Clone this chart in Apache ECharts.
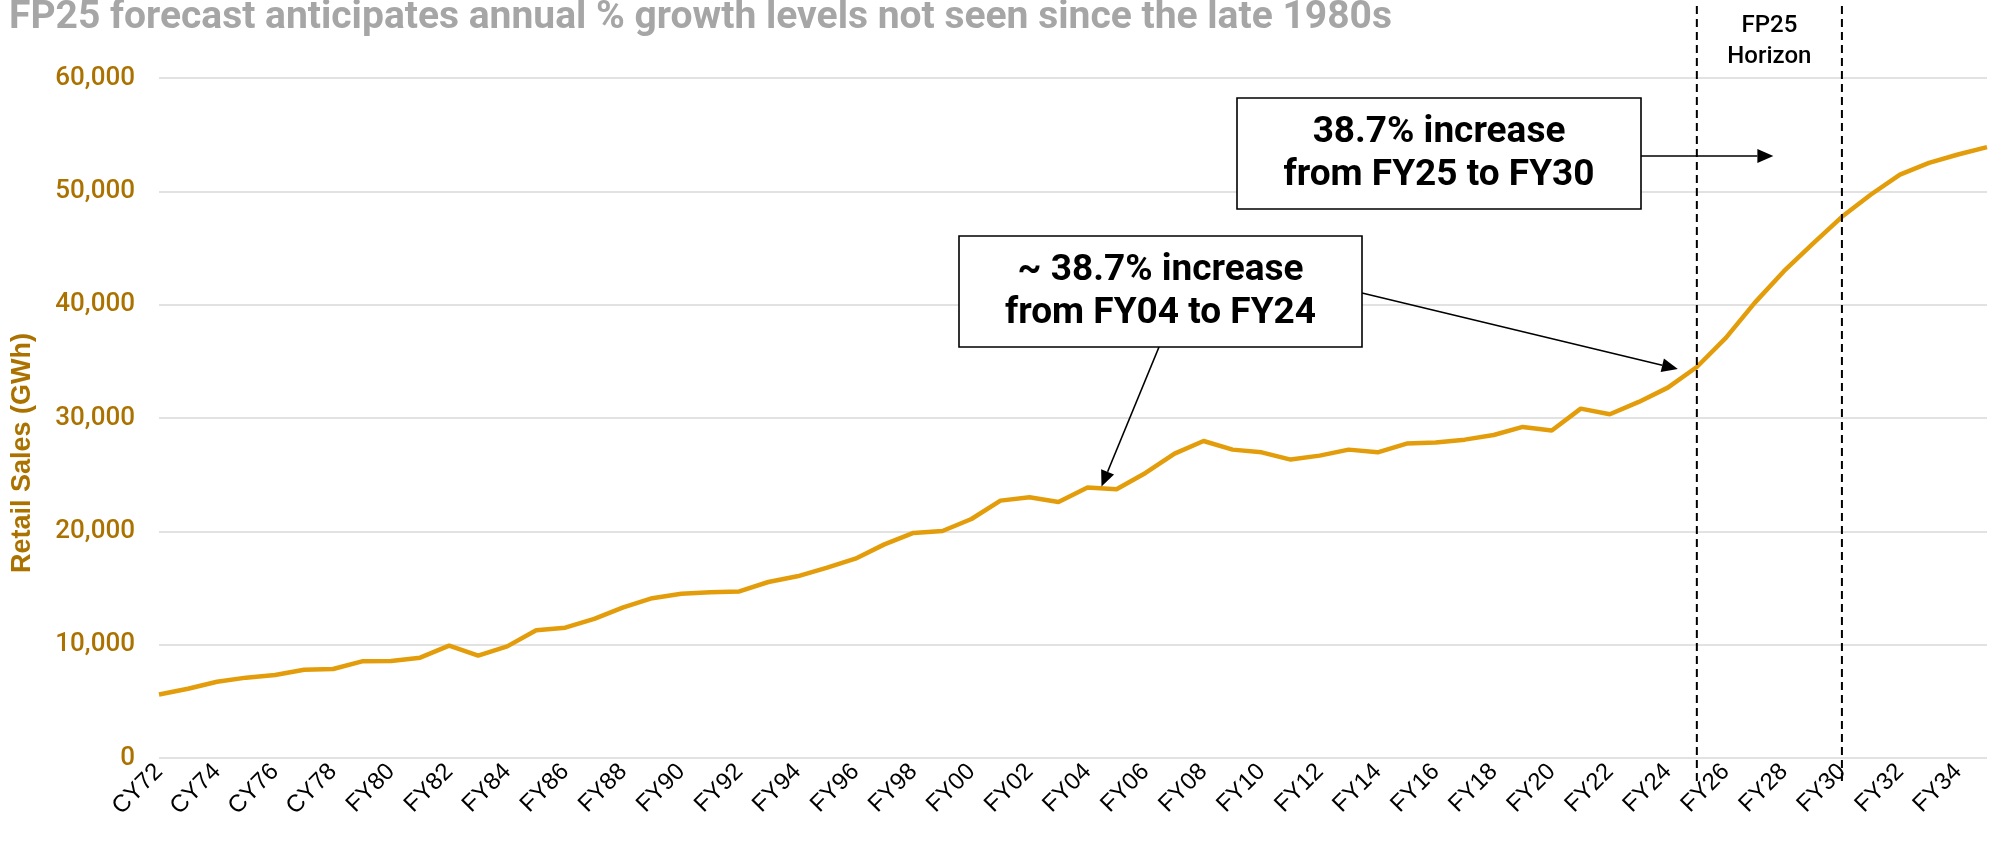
<!DOCTYPE html>
<html>
<head>
<meta charset="utf-8">
<script src="https://cdn.jsdelivr.net/npm/echarts@6/dist/echarts.min.js"></script>
<style>
  html, body { margin: 0; padding: 0; background: #fff; }
  #main { width: 1999px; height: 845px; }
</style>
</head>
<body>
<div id="main"></div>
<script>
// categories (calendar years up to 79, fiscal years after)
var periods = ['CY72', 'CY73', 'CY74', 'CY75', 'CY76', 'CY77', 'CY78', 'CY79',
  'FY80', 'FY81', 'FY82', 'FY83', 'FY84', 'FY85', 'FY86', 'FY87', 'FY88', 'FY89',
  'FY90', 'FY91', 'FY92', 'FY93', 'FY94', 'FY95', 'FY96', 'FY97', 'FY98', 'FY99',
  'FY00', 'FY01', 'FY02', 'FY03', 'FY04', 'FY05', 'FY06', 'FY07', 'FY08', 'FY09',
  'FY10', 'FY11', 'FY12', 'FY13', 'FY14', 'FY15', 'FY16', 'FY17', 'FY18', 'FY19',
  'FY20', 'FY21', 'FY22', 'FY23', 'FY24', 'FY25', 'FY26', 'FY27', 'FY28', 'FY29',
  'FY30', 'FY31', 'FY32', 'FY33', 'FY34', 'FY35'];

// retail sales, GWh
var retailSales = [5610, 6110, 6730, 7090, 7320, 7790, 7850, 8530,
  8560, 8850, 9910, 9030, 9850, 11270, 11500, 12270, 13290, 14100,
  14500, 14620, 14700, 15530, 16030, 16770, 17590, 18850, 19860, 20030,
  21090, 22710, 23000, 22590, 23860, 23710, 25150, 26860, 27970, 27210,
  26970, 26330, 26680, 27210, 26970, 27740, 27830, 28090, 28500, 29210,
  28890, 30830, 30330, 31420, 32680, 34500, 37070, 40180, 42950, 45390,
  47750, 49720, 51480, 52510, 53250, 53900];

var yMin = 0, yMax = 60000, yStep = 10000;

// forecast horizon and annotation anchors
var horizonStart = 'FY25';
var horizonEnd = 'FY30';
var noteA = ['38.7% increase', 'from FY25 to FY30'];
var noteB = ['~ 38.7% increase', 'from FY04 to FY24'];
var noteBTargets = ['FY04', 'FY25'];

var gold = '#e39d0b';
var axisGold = '#ab7200';

var myChart = echarts.init(document.getElementById('main'));

var option = {
  animation: false,
  backgroundColor: '#fff',
  title: {
    text: 'FP25 forecast anticipates annual % growth levels not seen since the late 1980s',
    left: 4,
    top: -6,
    textStyle: {
      color: '#a6a6a6',
      fontFamily: 'Roboto',
      fontWeight: 'bold',
      fontSize: 39
    }
  },
  grid: {
    left: 159,
    right: 12,
    top: 78,
    bottom: 87
  },
  xAxis: {
    type: 'category',
    data: periods,
    boundaryGap: false,
    axisLine: { show: false },
    axisTick: { show: false },
    splitLine: { show: false },
    axisLabel: {
      show: true,
      interval: 1,
      rotate: 45,
      margin: 10,
      color: '#000',
      fontFamily: 'Liberation Sans',
      fontSize: 24
    }
  },
  yAxis: {
    type: 'value',
    min: yMin,
    max: yMax,
    interval: yStep,
    axisLine: { show: false },
    axisTick: { show: false },
    splitLine: {
      show: true,
      lineStyle: { color: '#d9d9d9', width: 1.5 }
    },
    axisLabel: {
      margin: 24,
      color: axisGold,
      fontFamily: 'Roboto',
      fontWeight: 500,
      fontSize: 26,
      formatter: function (v) { return v.toLocaleString('en-US'); }
    }
  },
  series: [{
    name: 'Retail Sales',
    type: 'line',
    data: retailSales,
    symbol: 'none',
    lineStyle: { color: gold, width: 4.5 },
    itemStyle: { color: gold }
  }]
};

myChart.setOption(option);

// annotations placed from the chart's own scales
function px(cat, val) {
  return myChart.convertToPixel({ xAxisIndex: 0, yAxisIndex: 0 }, [cat, val]);
}

function arrow(x1, y1, x2, y2) {
  var ang = Math.atan2(y2 - y1, x2 - x1);
  var len = 16, half = 7;
  var bx = x2 - len * Math.cos(ang), by = y2 - len * Math.sin(ang);
  var nx = -Math.sin(ang) * half, ny = Math.cos(ang) * half;
  return [{
    type: 'line',
    shape: { x1: x1, y1: y1, x2: bx, y2: by },
    style: { stroke: '#000', lineWidth: 1.6 },
    z: 20
  }, {
    type: 'polygon',
    shape: { points: [[x2, y2], [bx + nx, by + ny], [bx - nx, by - ny]] },
    style: { fill: '#000' },
    z: 20
  }];
}

function noteBox(x, y, w, h, lines) {
  var els = [{
    type: 'rect',
    shape: { x: x, y: y, width: w, height: h },
    style: { fill: '#fff', stroke: '#000', lineWidth: 1.6 },
    z: 21
  }];
  var cx = x + w / 2;
  lines.forEach(function (t, i) {
    els.push({
      type: 'text',
      z: 22,
      style: {
        x: cx, y: y + 35 + i * 43,
        text: t,
        align: 'center',
        verticalAlign: 'middle',
        fill: '#000',
        font: 'bold 37px Roboto'
      }
    });
  });
  return els;
}

var x25 = px(horizonStart, 0)[0];
var x30 = px(horizonEnd, 0)[0];
var g = [];

[x25, x30].forEach(function (x) {
  g.push({
    type: 'line',
    shape: { x1: x, y1: 6, x2: x, y2: 782 },
    style: { stroke: '#000', lineWidth: 2, lineDash: [8, 5] },
    z: 15
  });
});

var midH = (x25 + x30) / 2;
g.push({
  type: 'text', z: 16,
  style: { x: midH, y: 26, text: 'FP25', align: 'center', verticalAlign: 'middle', fill: '#000', font: '500 24px Roboto' }
});
g.push({
  type: 'text', z: 16,
  style: { x: midH, y: 57, text: 'Horizon', align: 'center', verticalAlign: 'middle', fill: '#000', font: '500 24px Roboto' }
});

// box A: FY25 to FY30
var boxA = { x: 1237, y: 98, w: 404, h: 111 };
g = g.concat(noteBox(boxA.x, boxA.y, boxA.w, boxA.h, noteA));
g = g.concat(arrow(boxA.x + boxA.w, 156, midH + 4, 156));

// box B: FY04 to FY24
var boxB = { x: 959, y: 236, w: 403, h: 111 };
g = g.concat(noteBox(boxB.x, boxB.y, boxB.w, boxB.h, noteB));
var tB1 = px(noteBTargets[0], retailSales[periods.indexOf(noteBTargets[0])]);
var tB2 = px(noteBTargets[1], retailSales[periods.indexOf(noteBTargets[1])]);
g = g.concat(arrow(1159, boxB.y + boxB.h, tB1[0] + 14, tB1[1] - 1));
g = g.concat(arrow(boxB.x + boxB.w, 293, tB2[0] - 19, tB2[1] + 2));

// y-axis name
g.push({
  type: 'text', z: 16,
  rotation: Math.PI / 2,
  x: 23, y: 453,
  style: {
    x: 0, y: 0,
    text: 'Retail Sales (GWh)',
    align: 'center',
    verticalAlign: 'middle',
    fill: axisGold,
    font: 'bold 27px "Liberation Sans"'
  }
});

myChart.setOption({ graphic: g });
</script>
</body>
</html>
